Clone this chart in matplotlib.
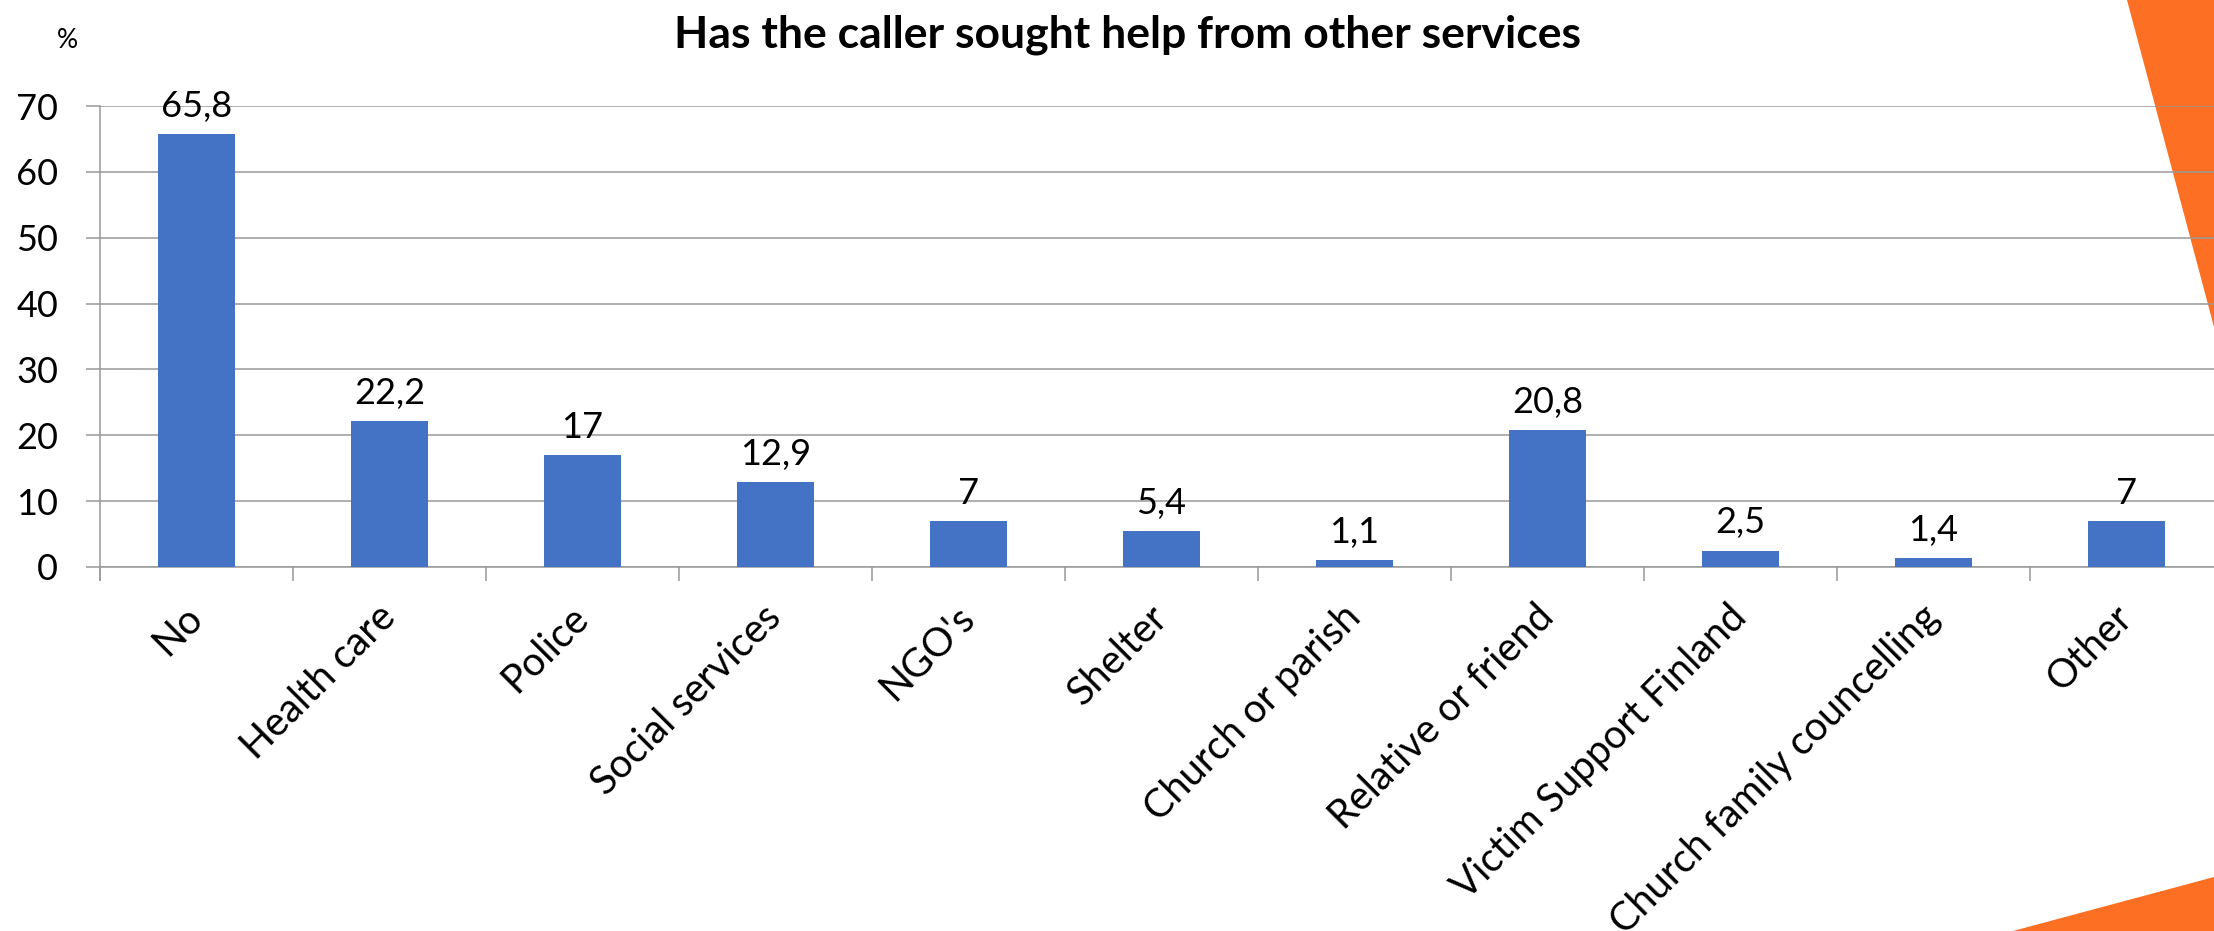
import matplotlib
matplotlib.use("Agg")
import matplotlib.pyplot as plt
from matplotlib.patches import Polygon
import numpy as np

plt.rcParams['font.family'] = ['Lato', 'DejaVu Sans']

categories = ["No", "Health care", "Police", "Social services", "NGO's", "Shelter",
              "Church or parish", "Relative or friend", "Victim Support Finland",
              "Church family councelling", "Other"]
values = [65.8, 22.2, 17, 12.9, 7, 5.4, 1.1, 20.8, 2.5, 1.4, 7]
value_labels = ["65,8", "22,2", "17", "12,9", "7", "5,4", "1,1", "20,8", "2,5", "1,4", "7"]
yticks = [0, 10, 20, 30, 40, 50, 60, 70]

W, H = 2214, 931
fig = plt.figure(figsize=(W / 100, H / 100), dpi=100)
fig.patch.set_facecolor("white")

# orange corner decorations behind the chart
orange = "#FD6F22"
for pts in ([(2127, 0), (2214, 0), (2214, 327)],
            [(2013, 931), (2214, 877), (2214, 931)]):
    fpts = [(x / W, 1 - y / H) for x, y in pts]
    fig.add_artist(Polygon(fpts, closed=True, facecolor=orange, edgecolor="none",
                           transform=fig.transFigure, zorder=-5))

ax = fig.add_axes([100 / W, 1 - 567 / H, 2123 / W, 461 / H])
ax.patch.set_alpha(0)

x = np.arange(len(categories))
ax.bar(x, values, width=0.40, color="#4472C4", zorder=3)

for xi, v, lab in zip(x, values, value_labels):
    ax.annotate(lab, (xi, v), xytext=(0, 8), textcoords="offset points",
                ha="center", va="bottom", fontsize=26, color="black")

ax.set_xlim(-0.5, len(categories) - 0.5)
ax.set_ylim(0, 70)
ax.set_yticks(yticks)
ax.set_yticklabels([str(t) for t in yticks], fontsize=26)
ax.grid(axis="y", color="#999999", lw=1.1, zorder=0)

for s in ["top", "right"]:
    ax.spines[s].set_visible(False)
ax.spines["left"].set_color("#999999")
ax.spines["bottom"].set_color("#999999")
ax.spines["left"].set_linewidth(1.1)
ax.spines["bottom"].set_linewidth(1.1)
ax.spines["left"].set_bounds(-70 * 13 / 461, 70)

ax.tick_params(axis="y", length=10, width=1.1, color="#999999", pad=20)

ax.set_xticks(x)
ax.set_xticklabels(categories, fontsize=28.5)
ax.set_xticks(np.arange(len(categories) + 1) - 0.5, minor=True)
ax.tick_params(axis="x", which="major", length=0, pad=32)
ax.tick_params(axis="x", which="minor", length=10, width=1.1, color="#999999")
plt.setp(ax.get_xticklabels(), rotation=45, ha="right", va="center",
         rotation_mode="anchor")

fig.text(1127 / W, 1 - 35 / H, "Has the caller sought help from other services",
         ha="center", va="center", fontsize=32, fontweight="bold")
fig.text(67 / W, 1 - 40 / H, "%", ha="center", va="center", fontsize=19)

fig.savefig("out.png", dpi=100)
